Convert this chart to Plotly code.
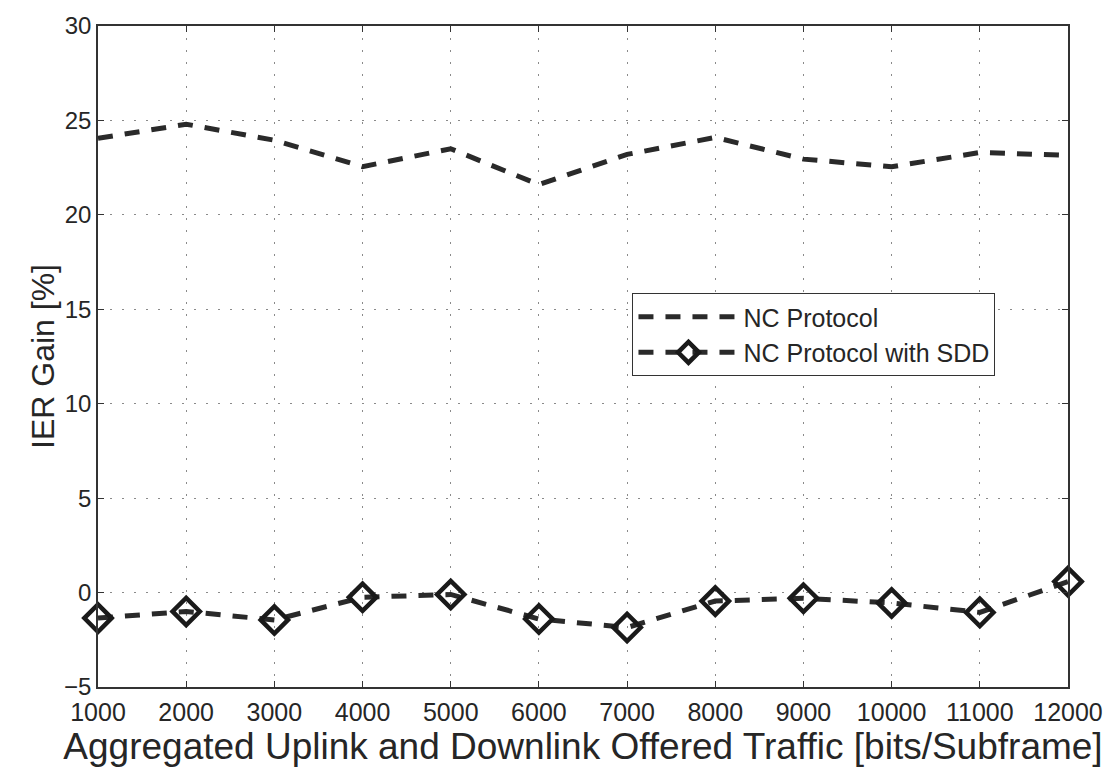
import plotly.graph_objects as go

traffic = [1000, 2000, 3000, 4000, 5000, 6000, 7000, 8000, 9000, 10000, 11000, 12000]
nc_protocol = [24.05, 24.8, 23.95, 22.55, 23.5, 21.6, 23.2, 24.1, 22.95, 22.55, 23.3, 23.15]
nc_sdd = [-1.35, -1.0, -1.45, -0.25, -0.1, -1.4, -1.85, -0.45, -0.3, -0.55, -1.05, 0.58]
x_ticks = traffic
y_ticks = [-5, 0, 5, 10, 15, 20, 25, 30]

FONT = "Liberation Sans, Arial, sans-serif"
ink = "#262626"

fig = go.Figure()
fig.add_trace(go.Scatter(
    x=traffic, y=nc_protocol, mode="lines", name="NC Protocol",
    line=dict(color="#2a2a2a", width=5, dash="15px,12px"),
    cliponaxis=False,
))
fig.add_trace(go.Scatter(
    x=traffic, y=nc_sdd, mode="lines+markers", name="NC Protocol with SDD",
    line=dict(color="#2a2a2a", width=5, dash="15px,12px"),
    marker=dict(symbol="diamond-open", size=21, color="#1a1a1a",
                line=dict(width=4.5, color="#1a1a1a")),
    cliponaxis=False,
))

axis_common = dict(
    showline=True, linecolor="#333", linewidth=1.5, mirror="ticks",
    ticks="inside", ticklen=6, tickcolor="#333", tickwidth=1,
    showgrid=True, gridcolor="#8a8a8a", griddash="2px,10px", gridwidth=1,
    zeroline=False,
)

fig.update_xaxes(
    range=[1000, 12000], tickvals=x_ticks, ticktext=[str(v) for v in x_ticks],
    tickfont=dict(family=FONT, size=25, color=ink), ticklabelstandoff=2,
    title=dict(text="Aggregated Uplink and Downlink Offered Traffic [bits/Subframe]",
               font=dict(family=FONT, size=37, color=ink), standoff=0),
    **axis_common,
)
fig.update_yaxes(
    range=[-5, 30], tickvals=y_ticks, ticktext=["\u22125" if v < 0 else str(v) for v in y_ticks],
    tickfont=dict(family=FONT, size=24, color=ink),
    title=dict(text="IER Gain [%]", font=dict(family=FONT, size=32, color=ink), standoff=0),
    **axis_common,
)

fig.update_layout(
    width=1120, height=771,
    margin=dict(l=98, r=52, t=19, b=84),
    paper_bgcolor="white", plot_bgcolor="white",
    font=dict(family=FONT, color=ink),
    showlegend=True,
    legend=dict(
        x=0.551, y=0.596, xanchor="left", yanchor="top",
        bgcolor="white", bordercolor="#333", borderwidth=1,
        font=dict(family=FONT, size=25, color=ink),
        tracegroupgap=4, itemwidth=100,
    ),
)

fig.write_html("out.html")
